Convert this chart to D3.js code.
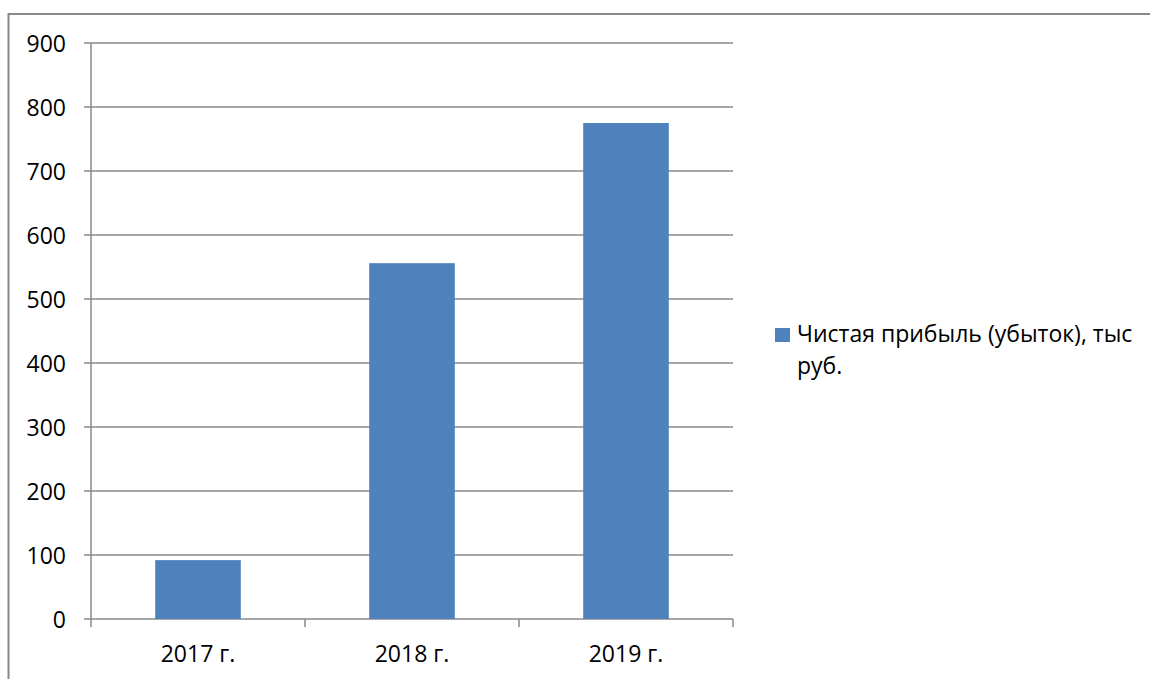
<!DOCTYPE html>
<html><head><meta charset="utf-8">
<script src="https://cdn.jsdelivr.net/npm/d3@7/dist/d3.min.js"></script>
<style>body{margin:0;background:#fff}svg{display:block}text{font-family:"Open Sans","Noto Sans",sans-serif;fill:#000}</style>
</head><body><svg id="c" width="1150" height="679"></svg>
<script>
const categories = ["2017 г.", "2018 г.", "2019 г."];
const values = [92, 556, 775];
const yTicks = [0,100,200,300,400,500,600,700,800,900];
const seriesName = ["Чистая прибыль (убыток), тыс", "руб."];

const svg = d3.select("#c");
svg.append("rect").attr("x",8.5).attr("y",14).attr("width",1200).attr("height",700)
  .attr("fill","none").attr("stroke","#888").attr("stroke-width",2);

const pLeft=91, pRight=733, pTop=43, pBottom=619;
const x = d3.scaleBand().domain(categories).range([pLeft,pRight]).paddingInner(0.6).paddingOuter(0.3);
const xb = d3.scaleBand().domain(categories).range([pLeft,pRight]);
const y = d3.scaleLinear().domain([0,900]).range([pBottom,pTop]);

// gridlines
svg.append("g").selectAll("line").data(yTicks).join("line")
  .attr("x1",pLeft-7).attr("x2",pRight).attr("y1",d=>y(d)).attr("y2",d=>y(d))
  .attr("stroke","#888").attr("stroke-width",1.5);
// y axis line
svg.append("line").attr("x1",pLeft).attr("x2",pLeft).attr("y1",pTop).attr("y2",pBottom+8)
  .attr("stroke","#888").attr("stroke-width",1.5);
// x category ticks
const bounds = categories.map(c=>xb(c)+xb.bandwidth());
svg.append("g").selectAll("line").data(bounds).join("line")
  .attr("x1",d=>d).attr("x2",d=>d).attr("y1",pBottom).attr("y2",pBottom+8)
  .attr("stroke","#888").attr("stroke-width",1.5);

// bars
svg.append("g").selectAll("rect").data(values).join("rect")
  .attr("x",(d,i)=>x(categories[i])).attr("width",x.bandwidth())
  .attr("y",d=>y(d)).attr("height",d=>y(0)-y(d)).attr("fill","#4F81BD");

// y labels
svg.append("g").selectAll("text").data(yTicks).join("text")
  .attr("x",66).attr("y",d=>y(d)+8.5).attr("text-anchor","end")
  .attr("font-size",23).text(d=>d);
// x labels
svg.append("g").selectAll("text").data(categories).join("text")
  .attr("x",d=>xb(d)+xb.bandwidth()/2).attr("y",662).attr("text-anchor","middle")
  .attr("font-size",23).text(d=>d);

// legend
svg.append("rect").attr("x",775).attr("y",328).attr("width",15).attr("height",14).attr("fill","#4F81BD");
svg.append("g").selectAll("text").data(seriesName).join("text")
  .attr("x",797).attr("y",(d,i)=>342+i*32).attr("font-size",23).text(d=>d);
</script></body></html>
